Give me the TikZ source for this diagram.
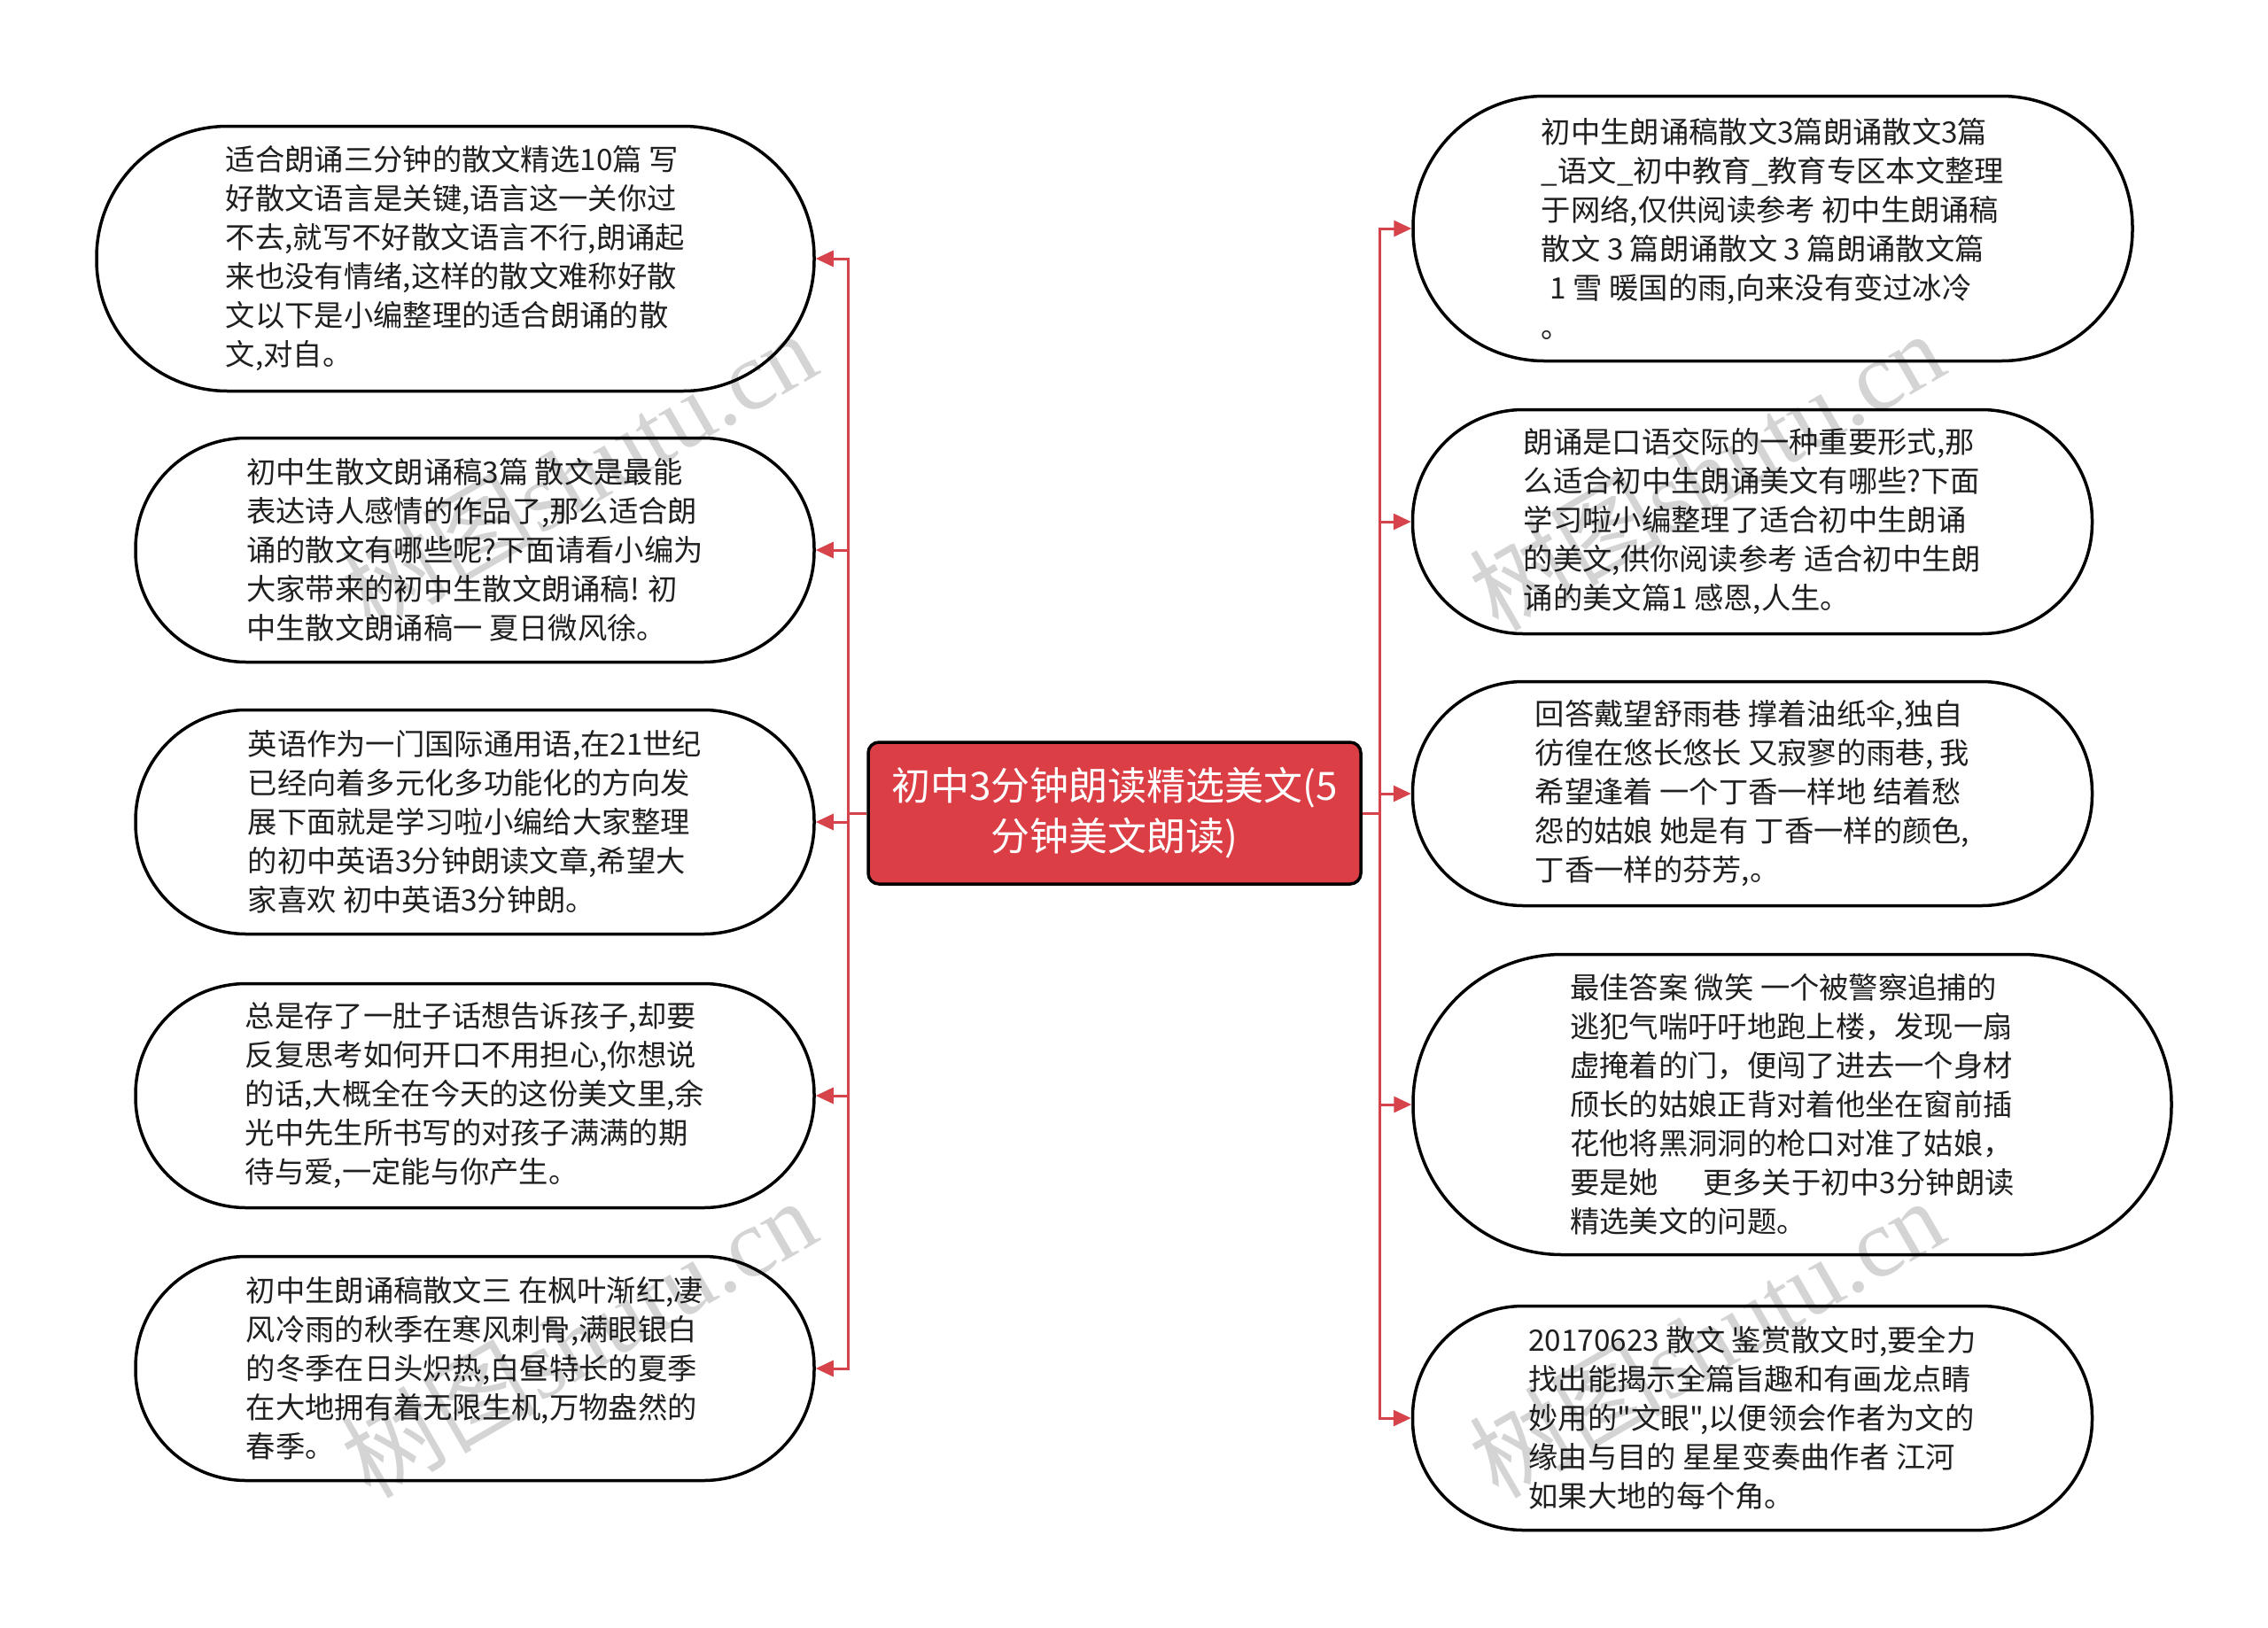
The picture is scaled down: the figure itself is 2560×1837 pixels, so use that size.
\documentclass[tikz,border=0pt]{standalone}
\usepackage{fontspec}
\newfontfamily\cjk{Noto Sans CJK SC}
\newfontfamily\wmserif{Liberation Serif}
\usetikzlibrary{arrows.meta}
\definecolor{mred}{HTML}{DC3E46}
\definecolor{lred}{HTML}{D6434B}
\begin{document}
\begin{tikzpicture}[x=1pt,y=-1pt,
 leaf/.style={draw=black, line width=3.5pt, fill=white, align=left, text=black!88,
   font=\cjk\fontsize{33.3}{44}\selectfont, inner sep=0pt},
 lsmall/.style={leaf, minimum width=766pt, minimum height=253pt, rounded corners=125pt},
 rsmall/.style={leaf, minimum width=767pt, minimum height=253pt, rounded corners=125pt},
 root/.style={draw=black, line width=3.5pt, fill=mred, text=white, align=center,
   font=\cjk\fontsize{44}{57}\selectfont, inner sep=0pt,
   minimum width=556pt, minimum height=160pt, rounded corners=12pt},
 conn/.style={draw=lred, line width=3pt, -{Triangle[length=20pt,width=18pt]}},
 wm/.style={text=black, opacity=0.17, rotate=30, inner sep=0pt}
]
\path[use as bounding box, fill=white] (0,0) rectangle (2560,1837);

\node[root] (C) at (1258,918) {初中3分钟朗读精选美文(5\\分钟美文朗读)};

\node[leaf, minimum width=810pt, minimum height=299pt, rounded corners=148pt] (L1) at (514,292)
 {适合朗诵三分钟的散文精选10篇 写\\好散文语言是关键,语言这一关你过\\不去,就写不好散文语言不行,朗诵起\\来也没有情绪,这样的散文难称好散\\文以下是小编整理的适合朗诵的散\\文,对自。};
\node[lsmall] (L2) at (536,621)
 {初中生散文朗诵稿3篇 散文是最能\\表达诗人感情的作品了,那么适合朗\\诵的散文有哪些呢?下面请看小编为\\大家带来的初中生散文朗诵稿! 初\\中生散文朗诵稿一 夏日微风徐。};
\node[lsmall] (L3) at (536,928)
 {英语作为一门国际通用语,在21世纪\\已经向着多元化多功能化的方向发\\展下面就是学习啦小编给大家整理\\的初中英语3分钟朗读文章,希望大\\家喜欢 初中英语3分钟朗。};
\node[lsmall] (L4) at (536,1237)
 {总是存了一肚子话想告诉孩子,却要\\反复思考如何开口不用担心,你想说\\的话,大概全在今天的这份美文里,余\\光中先生所书写的对孩子满满的期\\待与爱,一定能与你产生。};
\node[lsmall] (L5) at (536,1545)
 {初中生朗诵稿散文三 在枫叶渐红,凄\\风冷雨的秋季在寒风刺骨,满眼银白\\的冬季在日头炽热,白昼特长的夏季\\在大地拥有着无限生机,万物盎然的\\春季。};

\node[leaf, minimum width=812pt, minimum height=299pt, rounded corners=148pt] (R1) at (2001,258)
 {初中生朗诵稿散文3篇朗诵散文3篇\\\_语文\_初中教育\_教育专区本文整理\\于网络,仅供阅读参考 初中生朗诵稿\\散文 3 篇朗诵散文 3 篇朗诵散文篇\\\hspace*{0.3em}1 雪 暖国的雨,向来没有变过冰冷\\。};
\node[rsmall] (R2) at (1978,589)
 {朗诵是口语交际的一种重要形式,那\\么适合初中生朗诵美文有哪些?下面\\学习啦小编整理了适合初中生朗诵\\的美文,供你阅读参考 适合初中生朗\\诵的美文篇1 感恩,人生。};
\node[rsmall] (R3) at (1978,896)
 {回答戴望舒雨巷 撑着油纸伞,独自\\彷徨在悠长悠长 又寂寥的雨巷, 我\\希望逢着 一个丁香一样地 结着愁\\怨的姑娘 她是有 丁香一样的颜色,\\丁香一样的芬芳,。};
\node[leaf, minimum width=856pt, minimum height=339pt, rounded corners=168pt] (R4) at (2023,1247)
 {最佳答案 微笑 一个被警察追捕的\\逃犯气喘吁吁地跑上楼，发现一扇\\虚掩着的门，便闯了进去一个身材\\颀长的姑娘正背对着他坐在窗前插\\花他将黑洞洞的枪口对准了姑娘，\\要是她\hspace{1.5em}更多关于初中3分钟朗读\\精选美文的问题。};
\node[rsmall] (R5) at (1978,1601)
 {20170623 散文 鉴赏散文时,要全力\\找出能揭示全篇旨趣和有画龙点睛\\妙用的"文眼",以便领会作者为文的\\缘由与目的 星星变奏曲作者 江河\\如果大地的每个角。};

\coordinate (tl) at (957,918);
\coordinate (tr) at (1557,918);
\draw[draw=lred, line width=3pt] (C.west) -- (tl);
\draw[draw=lred, line width=3pt] (C.east) -- (tr);
\foreach \n in {L1,L2,L3,L4,L5} \draw[conn] (tl) |- (\n.east);
\foreach \n in {R1,R2,R3,R4,R5} \draw[conn] (tr) |- (\n.west);

\node[wm] (w1) at (653,531) {\cjk\fontsize{110}{110}\selectfont 树图\wmserif shutu.cn};
\node[wm] (w2) at (1926,531) {\cjk\fontsize{110}{110}\selectfont 树图\wmserif shutu.cn};
\node[wm] (w3) at (653,1510) {\cjk\fontsize{110}{110}\selectfont 树图\wmserif shutu.cn};
\node[wm] (w4) at (1926,1510) {\cjk\fontsize{110}{110}\selectfont 树图\wmserif shutu.cn};
\end{tikzpicture}
\end{document}
